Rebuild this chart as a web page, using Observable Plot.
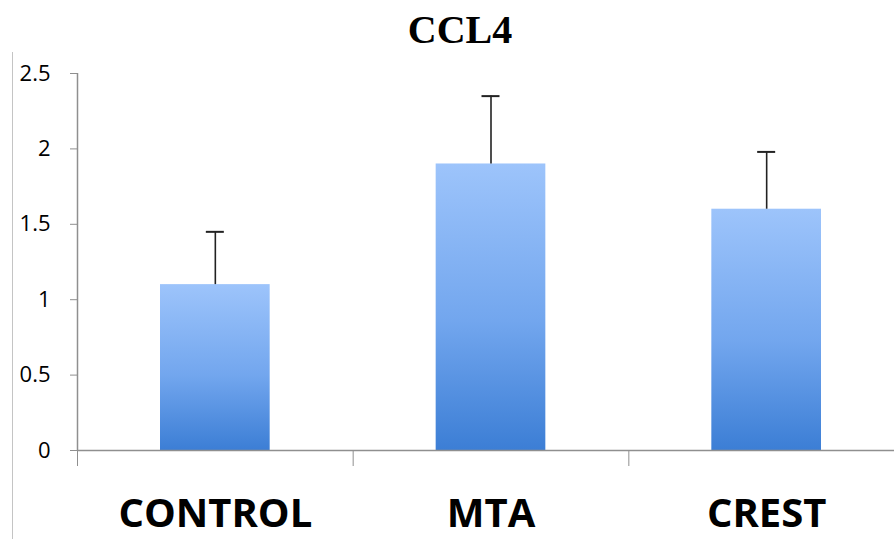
<!DOCTYPE html>
<html><head>
<meta charset="utf-8">
<script src="https://cdn.jsdelivr.net/npm/d3@7"></script>
<script src="https://cdn.jsdelivr.net/npm/@observablehq/plot@0.6"></script>
<style>
body{margin:0;background:#fff;overflow:hidden;width:894px;height:539px;position:relative}
#title{position:absolute;left:0;top:10px;width:920px;text-align:center;font:bold 40px "Liberation Serif","Times New Roman",serif;line-height:40px;color:#000}
#frame{position:absolute;left:12px;top:52px;height:487px;border-left:1.5px solid #c4c4c4;z-index:2}
#chart{position:absolute;left:0;top:52px;z-index:1}
#chart svg{overflow:hidden}
</style></head><body>
<div id="title">CCL4</div><div id="frame"></div><div id="chart"></div>
<script>
const categories = ["CONTROL", "MTA", "CREST"];
const means = [1.1, 1.9, 1.6];
const upper = [1.45, 2.35, 1.98];
const yTicks = [0, 0.5, 1, 1.5, 2, 2.5];
const yTickLabels = ["0", "0.5", "1", "1.5", "2", "2.5"];

const data = categories.map((c, i) => ({c, i, mean: means[i], upper: upper[i]}));
const grey = "#8f8f8f";

const svg = Plot.plot({
  width: 894, height: 487,
  marginLeft: 77, marginRight: 0, marginTop: 21, marginBottom: 89,
  style: {fontFamily: "'Open Sans', sans-serif", color: "#000", background: "transparent"},
  x: {domain: [0, 3], range: [77, 904]},
  y: {domain: [0, 2.5]},
  marks: [
    Plot.rectY(data, {x1: d => d.i, x2: d => d.i + 1, y: "mean", insetLeft: 83, insetRight: 83, fill: "url(#barGrad)"}),
    Plot.ruleX(data, {x: d => d.i + 0.5, y1: "mean", y2: "upper", stroke: "#222", strokeWidth: 1.6}),
    Plot.ruleY(data, {y: "upper", x1: d => d.i + 0.5, x2: d => d.i + 0.5, insetLeft: -9, insetRight: -9, stroke: "#222", strokeWidth: 2}),
    Plot.ruleY([0], {stroke: grey, strokeWidth: 1.5}),
    Plot.ruleX([0], {y1: 0, y2: 2.5, stroke: grey, strokeWidth: 1.5}),
    Plot.axisY({ticks: yTicks, tickFormat: d => yTickLabels[yTicks.indexOf(d)], tickSize: 7, tickPadding: 20, fontSize: 22, stroke: grey, fill: "#000"}),
    Plot.axisX({ticks: [0, 1, 2, 3], tickFormat: () => "", tickSize: 16, stroke: grey}),
    Plot.axisX({ticks: [0.5, 1.5, 2.5], tickFormat: d => categories[Math.floor(d)], tickSize: 0, tickPadding: 48, fontSize: 40, fontWeight: "bold", fill: "#000"})
  ]
});

const defs = d3.select(svg).insert("defs", ":first-child");
const g = defs.append("linearGradient").attr("id", "barGrad").attr("x1", 0).attr("y1", 0).attr("x2", 0).attr("y2", 1);
g.append("stop").attr("offset", "0%").attr("stop-color", "#9dc4fb");
g.append("stop").attr("offset", "55%").attr("stop-color", "#72a6ee");
g.append("stop").attr("offset", "100%").attr("stop-color", "#3c7ed5");

document.getElementById("chart").appendChild(svg);
</script>
</body></html>
